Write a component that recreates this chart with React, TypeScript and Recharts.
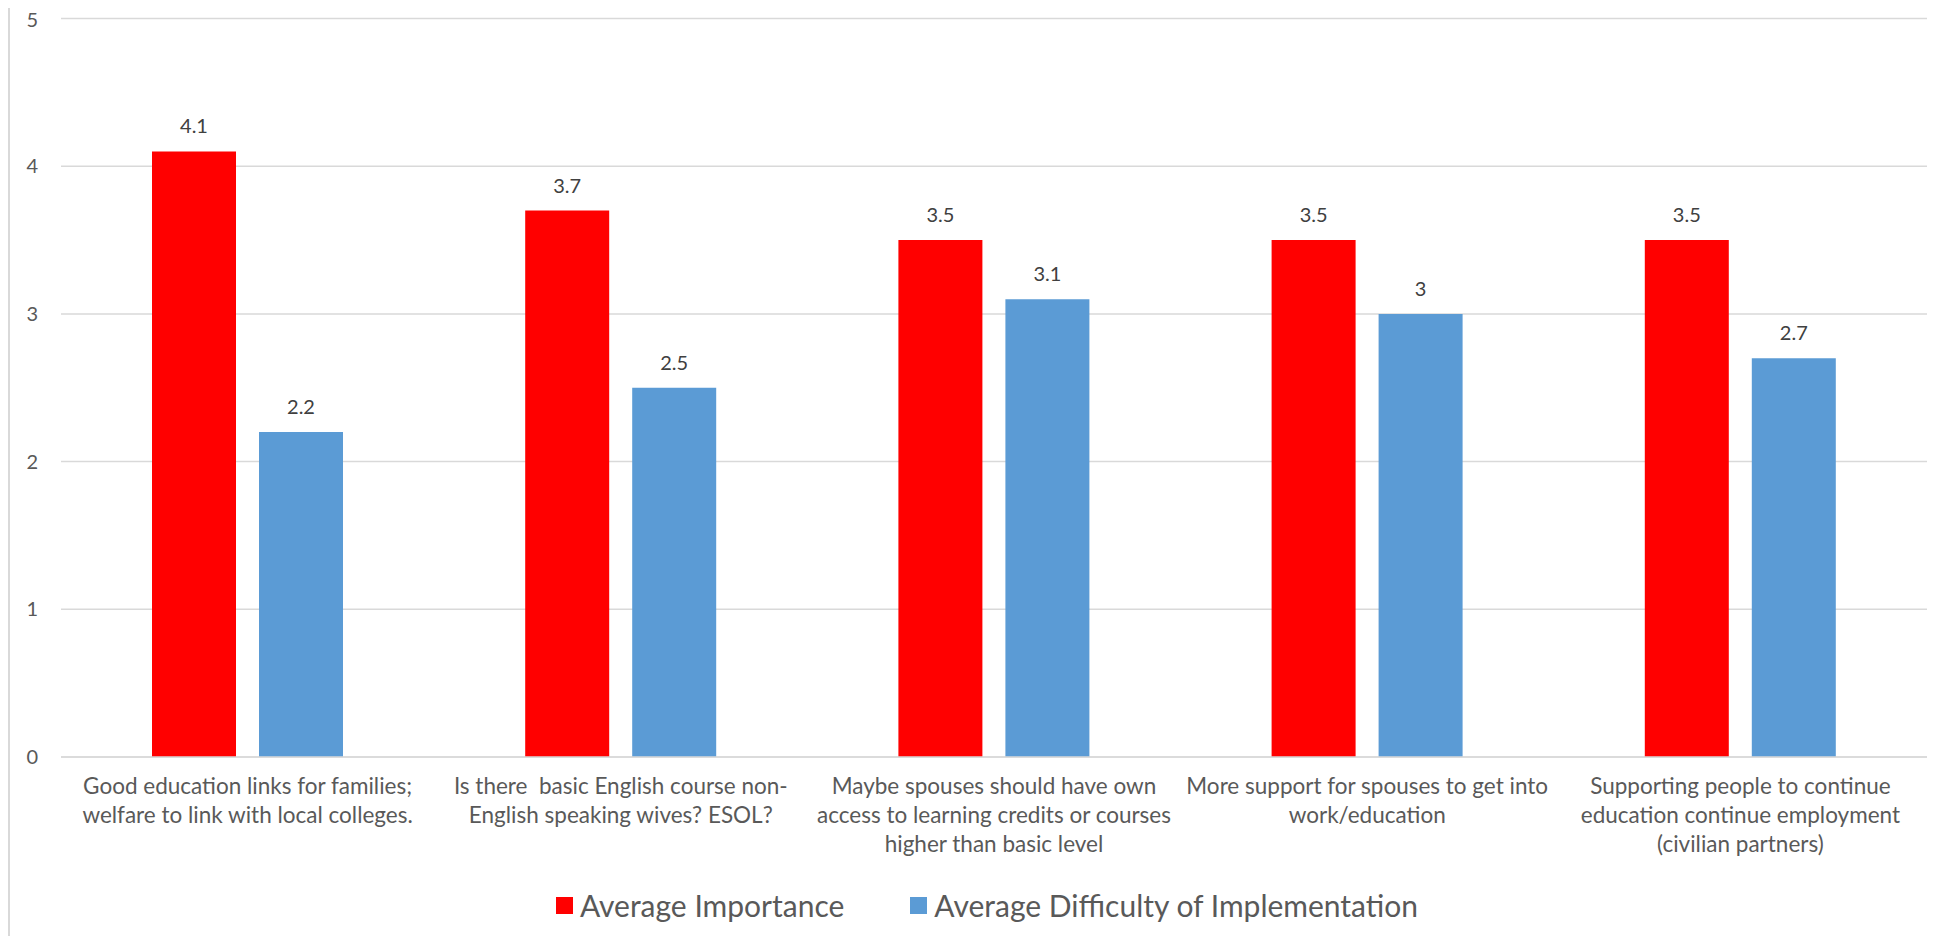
import React from "react";
import { BarChart, Bar, XAxis, YAxis, CartesianGrid, Legend, LabelList } from "recharts";

// Category labels (explicit line breaks as they appear under the axis)
const categories: string[] = [
  "Good education links for families;\nwelfare to link with local colleges.",
  "Is there  basic English course non-\nEnglish speaking wives? ESOL?",
  "Maybe spouses should have own\naccess to learning credits or courses\nhigher than basic level",
  "More support for spouses to get into\nwork/education",
  "Supporting people to continue\neducation continue employment\n(civilian partners)",
];

const averageImportance: number[] = [4.1, 3.7, 3.5, 3.5, 3.5];
const averageDifficulty: number[] = [2.2, 2.5, 3.1, 3, 2.7];

const yTicks: number[] = [0, 1, 2, 3, 4, 5];

const seriesNames = {
  importance: "Average Importance",
  difficulty: "Average Difficulty of Implementation",
};

const data = categories.map((name, i) => ({
  name,
  importance: averageImportance[i],
  difficulty: averageDifficulty[i],
}));

const FONT = "Lato, 'Open Sans', sans-serif";
const TEXT = "#595959";
const GRID = "#d9d9d9";
const RED = "#FF0000";
const BLUE = "#5B9BD5";

const W = 1943;
const H = 928;

const CategoryTick = (props: any) => {
  const { x, y, payload } = props;
  const lines: string[] = String(payload.value).split("\n");
  return (
    <text
      x={x}
      y={y}
      textAnchor="middle"
      fill={TEXT}
      fontFamily={FONT}
      fontSize={22.5}
      style={{ whiteSpace: "pre" }}
    >
      {lines.map((line, i) => (
        <tspan key={i} x={x} dy={i === 0 ? 37 : 29}>
          {line}
        </tspan>
      ))}
    </text>
  );
};

const LegendContent = () => {
  const items = [
    { label: seriesNames.importance, color: RED },
    { label: seriesNames.difficulty, color: BLUE },
  ];
  return (
    <div
      style={{
        width: W,
        height: 40,
        display: "flex",
        alignItems: "center",
        justifyContent: "center",
        paddingLeft: 15,
        boxSizing: "border-box",
        fontFamily: FONT,
        fontSize: 30,
        color: TEXT,
      }}
    >
      {items.map((it, i) => (
        <div
          key={it.label}
          style={{ display: "flex", alignItems: "center", marginLeft: i === 0 ? 0 : 66 }}
        >
          <span
            style={{ display: "inline-block", width: 17, height: 17, background: it.color, marginRight: 7 }}
          />
          <span style={{ whiteSpace: "nowrap" }}>{it.label}</span>
        </div>
      ))}
    </div>
  );
};

export default function App() {
  return (
    <div style={{ position: "relative", width: W, height: H }}>
      <div
        style={{
          position: "absolute",
          left: 0,
          top: -8,
          width: 2,
          height: 944,
          background: GRID,
        }}
      />
      <BarChart
        width={W}
        height={H}
        data={data}
        margin={{ top: 10.5, right: 24, left: 0, bottom: 0 }}
        barCategoryGap={91}
        barGap={23}
      >
        <CartesianGrid vertical={false} stroke={GRID} strokeWidth={1.5} />
        <XAxis
          dataKey="name"
          interval={0}
          tickLine={false}
          axisLine={{ stroke: GRID, strokeWidth: 1.5 }}
          tickSize={0}
          tickMargin={0}
          height={139}
          tick={<CategoryTick />}
        />
        <YAxis
          domain={[0, 5]}
          ticks={yTicks}
          width={53}
          axisLine={false}
          tickLine={false}
          tickSize={0}
          tickMargin={23}
          tick={{ fill: TEXT, fontSize: 20, fontFamily: FONT }}
        />
        <Legend
          verticalAlign="bottom"
          content={<LegendContent />}
          wrapperStyle={{ left: 0, top: 877, width: W, height: 40 }}
        />
        <Bar dataKey="importance" name={seriesNames.importance} fill={RED} barSize={84} isAnimationActive={false}>
          <LabelList dataKey="importance" position="top" offset={18} fill="#404040" fontSize={20} fontFamily={FONT} />
        </Bar>
        <Bar dataKey="difficulty" name={seriesNames.difficulty} fill={BLUE} barSize={84} isAnimationActive={false}>
          <LabelList dataKey="difficulty" position="top" offset={18} fill="#404040" fontSize={20} fontFamily={FONT} />
        </Bar>
      </BarChart>
    </div>
  );
}
